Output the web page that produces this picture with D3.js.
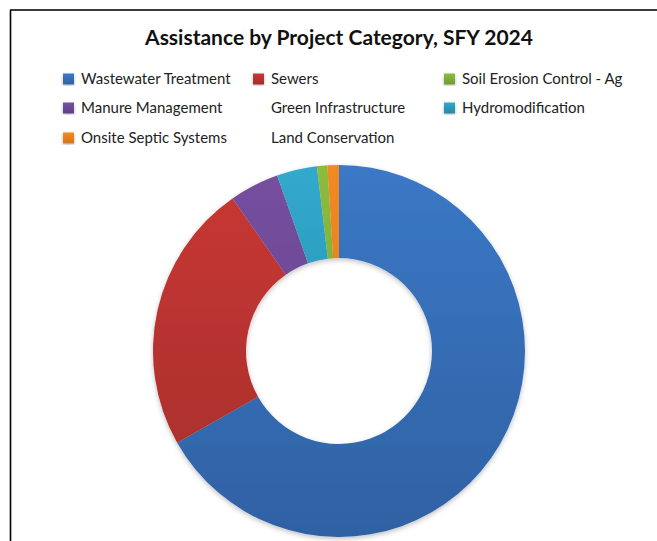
<!DOCTYPE html>
<html>
<head>
<meta charset="utf-8">
<script src="https://cdn.jsdelivr.net/npm/d3@7"></script>
<style>
  html, body { margin: 0; padding: 0; background: #fff; }
  svg { display: block; font-family: Lato, "Noto Sans", sans-serif; }
</style>
</head>
<body>
<svg id="chart" width="657" height="541"></svg>
<script>
// Project categories in ring order (clockwise from 12 o'clock)
const categories = [
  "Wastewater Treatment",
  "Sewers",
  "Manure Management",
  "Green Infrastructure",
  "Hydromodification",
  "Soil Erosion Control - Ag",
  "Onsite Septic Systems",
  "Land Conservation"
];
// Share of assistance, percent
const shares = [66.8, 23.5, 4.3, 0, 3.5, 0.9, 1.0, 0];
const colors = ["#3b78c6", "#c93834", "#7650a0", "#9bbb59", "#31a9cc", "#8cbc3e", "#f28a22", "#4bacc6"];
const darkColors = ["#2f61a3", "#a42d2b", "#5f3f85", "#7e9a47", "#2788a6", "#71992f", "#d4731a", "#3b8ca3"];
// Legend reading order, three per row
const legendOrder = [
  "Wastewater Treatment", "Sewers", "Soil Erosion Control - Ag",
  "Manure Management", "Green Infrastructure", "Hydromodification",
  "Onsite Septic Systems", "Land Conservation"
];

const svg = d3.select("#chart");
const W = 657, H = 541;

// chart frame
svg.append("line").attr("x1", 10).attr("x2", W).attr("y1", 10).attr("y2", 10)
  .attr("stroke", "#3a3a3a").attr("stroke-width", 2);
svg.append("line").attr("x1", 10.5).attr("x2", 10.5).attr("y1", 10).attr("y2", H)
  .attr("stroke", "#000").attr("stroke-width", 1.6);

svg.append("text")
  .attr("x", 339).attr("y", 45)
  .attr("text-anchor", "middle")
  .attr("font-size", 21).attr("font-weight", 700).attr("fill", "#111")
  .text("Assistance by Project Category, SFY 2024");

const cx = 339, cy = 351, rOuter = 186, rInner = 93;
const defs = svg.append("defs");
categories.forEach((c, i) => {
  // ring gradient, in the ring group's coordinates (centre at 0,0)
  const g = defs.append("linearGradient").attr("id", "grad" + i)
    .attr("gradientUnits", "userSpaceOnUse")
    .attr("x1", 0).attr("y1", -rOuter).attr("x2", 0).attr("y2", rOuter);
  g.append("stop").attr("offset", 0).attr("stop-color", colors[i]);
  g.append("stop").attr("offset", 1).attr("stop-color", darkColors[i]);
  // legend swatch gradient
  const s = defs.append("linearGradient").attr("id", "sw" + i)
    .attr("x1", 0).attr("y1", 0).attr("x2", 0).attr("y2", 1);
  s.append("stop").attr("offset", 0).attr("stop-color", colors[i]);
  s.append("stop").attr("offset", 1).attr("stop-color", darkColors[i]);
});
const shadow = defs.append("filter").attr("id", "shadow")
  .attr("x", "-10%").attr("y", "-10%").attr("width", "120%").attr("height", "120%");
shadow.append("feDropShadow").attr("dx", 0).attr("dy", 2).attr("stdDeviation", 2.5)
  .attr("flood-color", "#000").attr("flood-opacity", 0.25);

const pie = d3.pie().sort(null).value(d => d);
const arc = d3.arc().innerRadius(rInner).outerRadius(rOuter);
const ring = svg.append("g").attr("transform", `translate(${cx},${cy})`)
  .attr("filter", "url(#shadow)");
ring.selectAll("path")
  .data(pie(shares).filter(d => d.data > 0))
  .join("path")
  .attr("d", arc)
  .attr("fill", d => `url(#grad${d.index})`);

// legend
const colX = [63, 253, 444];
const rowY = [79, 108, 138];
const legend = svg.append("g");
legendOrder.forEach((name, k) => {
  const i = categories.indexOf(name);
  const x = colX[k % 3], y = rowY[Math.floor(k / 3)];
  const g = legend.append("g").attr("transform", `translate(${x},${y})`);
  if (shares[i] > 0) {
    g.append("rect").attr("x", 0).attr("y", -5.5).attr("width", 11).attr("height", 11)
      .attr("fill", `url(#sw${i})`).attr("filter", "url(#shadow)");
  }
  g.append("text").attr("x", 18).attr("y", 0).attr("dy", "0.35em")
    .attr("font-size", 15).attr("fill", "#222").text(name);
});
</script>
</body>
</html>
